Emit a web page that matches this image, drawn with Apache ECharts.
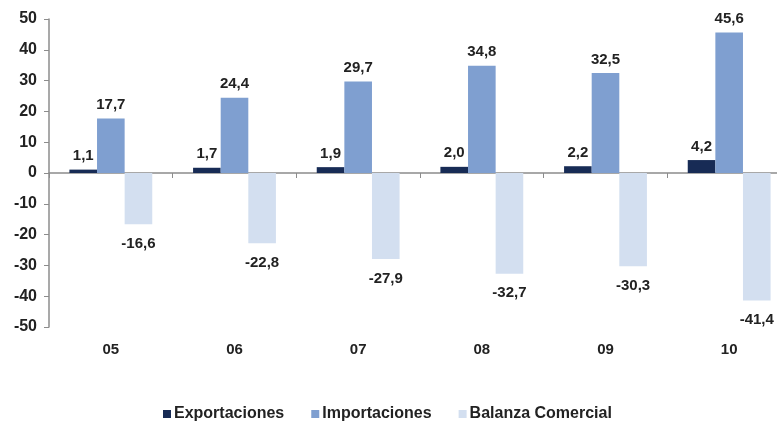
<!DOCTYPE html>
<html><head><meta charset="utf-8">
<script src="https://cdn.jsdelivr.net/npm/echarts@6/dist/echarts.min.js"></script>
<style>html,body{margin:0;padding:0;background:#fff}#c{width:777px;height:423px}</style>
</head><body><div id="c"></div>
<script>
var categories = ['05','06','07','08','09','10'];
var exportaciones = [1.1, 1.7, 1.9, 2.0, 2.2, 4.2];
var importaciones = [17.7, 24.4, 29.7, 34.8, 32.5, 45.6];
var balanza = [-16.6, -22.8, -27.9, -32.7, -30.3, -41.4];
var yTicks = [-50,-40,-30,-20,-10,0,10,20,30,40,50];

var FONT = '"Liberation Sans", Arial, sans-serif';
function fmt(p){ return p.value.toFixed(1).replace('.', ','); }
function lbl(pos, dist){
  return {show:true, position:pos, distance:dist, formatter:fmt,
    fontFamily:FONT, fontWeight:'bold', fontSize:15, color:'#222'};
}
var chart = echarts.init(document.getElementById('c'), null, {renderer:'canvas'});
chart.setOption({
  animation:false,
  backgroundColor:'#fff',
  grid:{left:49, width:742, top:19, bottom:96, containLabel:false, outerBoundsMode:'none'},
  legend:{
    top:401, left:158,
    itemWidth:8, itemHeight:8, itemGap:27, icon:'rect',
    textStyle:{fontFamily:FONT, fontWeight:'bold', fontSize:16, color:'#222', padding:[0,0,0,-2]},
    data:['Exportaciones','Importaciones','Balanza Comercial']
  },
  xAxis:[
    {type:'category', data:categories, position:'bottom',
     axisLine:{show:false, onZero:false}, axisTick:{show:false},
     axisLabel:{margin:15, fontFamily:FONT, fontWeight:'bold', fontSize:15, color:'#222'}},
    {type:'category', data:categories, position:'top',
     axisLine:{show:true, onZero:true, lineStyle:{color:'#8c8c8c', width:1.5}},
     axisTick:{show:true, inside:true, length:5, lineStyle:{color:'#8c8c8c'}},
     axisLabel:{show:false}}
  ],
  yAxis:{type:'value', min:-50, max:50, interval:10,
    splitLine:{show:false},
    axisLine:{show:true, lineStyle:{color:'#8c8c8c', width:1.5}},
    axisTick:{show:true, length:5, lineStyle:{color:'#8c8c8c'}},
    axisLabel:{margin:12, fontFamily:FONT, fontWeight:'bold', fontSize:16, color:'#222',
      formatter:function(v){return yTicks.indexOf(v)>=0 ? String(v) : '';}}
  },
  series:[
    {name:'Exportaciones', type:'bar', data:exportaciones, barGap:'0%', barCategoryGap:'33%',
     itemStyle:{color:'#172b55'}, label:lbl('top',6)},
    {name:'Importaciones', type:'bar', data:importaciones, barGap:'0%', barCategoryGap:'33%',
     itemStyle:{color:'#7f9fd0'}, label:lbl('top',6)},
    {name:'Balanza Comercial', type:'bar', data:balanza, barGap:'0%', barCategoryGap:'33%',
     itemStyle:{color:'#d3dff0'}, label:lbl('bottom',12)}
  ]
});
</script></body></html>
